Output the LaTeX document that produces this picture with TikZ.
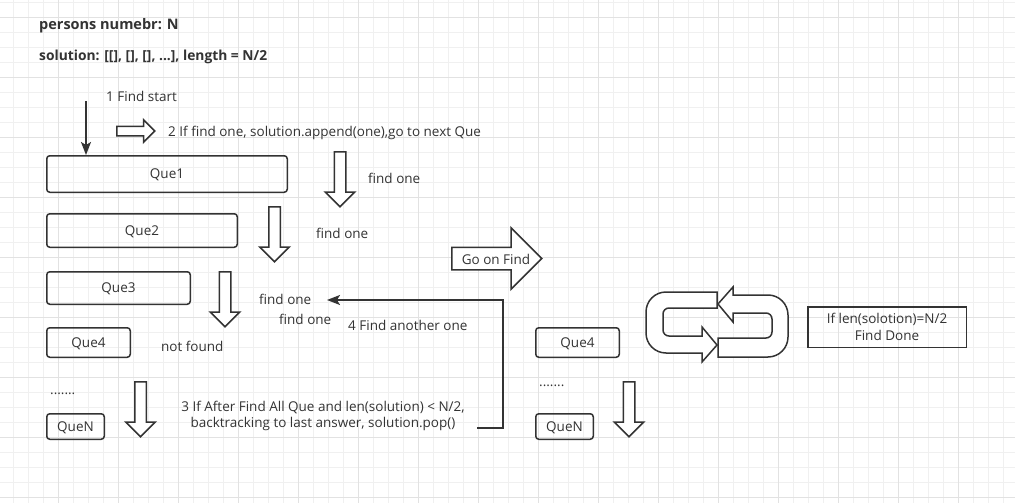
\documentclass[tikz,border=0pt]{standalone}
\usepackage{fontspec}
\setmainfont{Open Sans}
\usetikzlibrary{positioning,shapes.arrows,arrows.meta}

\definecolor{ink}{HTML}{333333}
\definecolor{gridminor}{HTML}{F0F0F0}
\definecolor{gridmajor}{HTML}{E2E2E2}

\tikzset{
  que/.style={draw=ink, line width=1.5pt, rounded corners=3pt, inner sep=0pt, text=ink, text depth=0pt},
  note/.style={inner sep=0pt, text=ink, anchor=base west},
  hollow/.style={single arrow, draw=ink, line width=1.5pt, fill=white, inner xsep=0pt,
    single arrow tip angle=90, anchor=tail},
  downarrow/.style={hollow, rotate=-90, minimum height=55pt, inner ysep=5pt,
    single arrow head extend=9pt},
  flow/.style={draw=ink, line width=1.5pt, -{Stealth[length=13pt,width=10pt,inset=3pt]}},
  band/.style={draw=ink, line width=1.5pt, fill=white},
}

\begin{document}
\begin{tikzpicture}[x=1pt, y=-1pt, font=\fontsize{13.5}{16.5}\selectfont]
    \useasboundingbox (0,0) rectangle (1015,503);
    \fill[white] (0,0) rectangle (1015,503);
    % grid
    \foreach \gx in {13.3,28.3,...,1015} \draw[gridminor, line width=0.8pt] (\gx,0) -- (\gx,503);
    \foreach \gy in {2.3,17.3,...,503} \draw[gridminor, line width=0.8pt] (0,\gy) -- (1015,\gy);
    \foreach \gx in {58.3,118.3,...,1015} \draw[gridmajor, line width=0.8pt] (\gx,0) -- (\gx,503);
    \foreach \gy in {17.3,77.3,...,503} \draw[gridmajor, line width=0.8pt] (0,\gy) -- (1015,\gy);

    \node[note, font=\fontsize{14.5}{17}\selectfont\bfseries](persons) at (39,29.3){persons numebr: N};
    \node[note, font=\fontsize{13.8}{17}\selectfont\bfseries](solution) at (39,61){solution: [[], [], [], ...], length = N/2};

    % left column of questions
    \node[que, minimum width=240.5pt, minimum height=36.5pt, anchor=north west](q1) at (46,155){Que1};
    \node[que, minimum width=190.5pt, minimum height=33.5pt, below right=20pt and 0pt of q1.south west](q2){Que2};
    \node[que, minimum width=143.5pt, minimum height=32.5pt, below right=23pt and 0pt of q2.south west](q3){Que3};
    \node[que, minimum width=83.5pt, minimum height=29.5pt, below right=22pt and 0pt of q3.south west](q4){Que4};
    \node[que, minimum width=57.5pt, minimum height=25.5pt, below right=55pt and 0pt of q4.south west](qn){QueN};
    \node[note](dots) at (50,394){.......};

    \coordinate (start) at (86,101);
    \draw[flow] (start) -- (start |- q1.north);
    \node[note](findstart) at (106,102){1 Find start};
    \node[hollow, minimum height=38pt, inner ysep=4pt, single arrow head extend=6.5pt](push) at (116,131){};
    \node[note](append) at (168,136){2 If find one, solution.append(one),go to next Que};

    \node[downarrow](d1) at (340,151){};
    \node[note](f1) at (368,183){find one};
    \node[downarrow](d2) at (274.5,206){};
    \node[note](f2) at (316,238){find one};
    \node[downarrow](d3) at (225,271){};
    \node[note](f3) at (259,304){find one};
    \node[note](f4) at (279,324){find one};
    \node[note](notfound) at (161,351.7){not found};
    \node[downarrow](d4) at (140.5,381){};
    \node[note](another) at (348,330.7){4 Find another one};
    \node[note, anchor=center, align=center](backtrack) at (323,416){3 If After Find All Que and len(solution) < N/2,\\backtracking to last answer, solution.pop()};

    \coordinate (backstart) at (477,428);
    \coordinate (turn) at (503,300);
    \coordinate (backtip) at (327,300);
    \draw[flow] (backstart) -| (turn) -- (backtip);

    \node[hollow, minimum height=90pt, inner ysep=10.5pt, single arrow head extend=19.5pt](goon) at (451,258.5){};
    \node[note, anchor=base](goontext) at (496,264){Go on Find};

    % right column after going on
    \node[que, minimum width=83.5pt, minimum height=29.5pt, anchor=north west](r4) at (535,327){Que4};
    \node[que, minimum width=57.5pt, minimum height=25.5pt, below right=55pt and 0pt of r4.south west](rn){QueN};
    \node[note](rdots) at (539,386){.......};
    \node[downarrow](d5) at (629,381){};

    % loop
    \draw[band] (717,292) -- (666,292) arc[start angle=270, end angle=180, radius=20]
        -- (646,333) arc[start angle=180, end angle=90, radius=20]
        -- (702,353) -- (702,362) -- (717,345) -- (702,327) -- (702,336)
        -- (669,336) arc[start angle=90, end angle=180, radius=6]
        -- (663,314) arc[start angle=180, end angle=270, radius=6] -- (717,308) -- cycle;
    \draw[band] (718,304) -- (733,287) -- (733,295) -- (768,295) arc[start angle=270, end angle=360, radius=20]
        -- (788,337) arc[start angle=0, end angle=90, radius=20]
        -- (718,357) -- (718,338)
        -- (766,338) arc[start angle=90, end angle=0, radius=6]
        -- (772,319) arc[start angle=0, end angle=-90, radius=6] -- (733,313) -- (733,322) -- cycle;

    \node[draw=ink, line width=1.5pt, minimum width=158.5pt, minimum height=40.5pt, inner sep=0pt,
        align=center, text=ink, anchor=north west](done) at (807,306){If len(solotion)=N/2\\Find Done};
\end{tikzpicture}
\end{document}
